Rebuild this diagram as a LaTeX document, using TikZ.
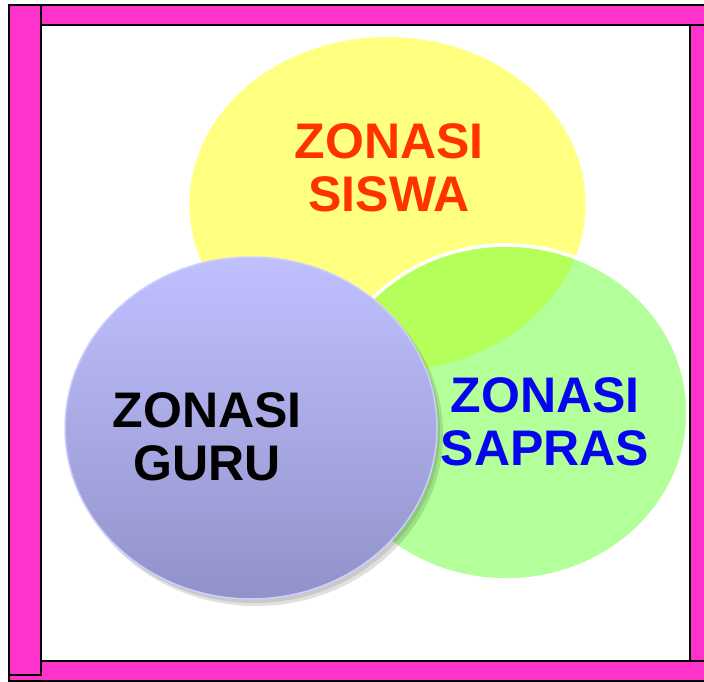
\documentclass[tikz,border=0pt]{standalone}
\usepackage{fontspec}
\setmainfont{Liberation Sans}
\definecolor{framepink}{RGB}{255,51,204}
\definecolor{siswafill}{RGB}{255,255,128}
\definecolor{saprasfill}{RGB}{179,255,153}
\definecolor{overlapfill}{RGB}{181,255,90}
\definecolor{gurutop}{RGB}{192,192,255}
\definecolor{gurubottom}{RGB}{146,146,202}
\definecolor{guruedge}{RGB}{206,206,255}
\definecolor{siswatext}{RGB}{255,51,0}
\definecolor{saprastext}{RGB}{5,5,240}
\tikzset{
  bar/.style={fill=framepink, draw=black, line width=1.5pt},
  zona/.style={font=\fontsize{50}{53}\selectfont\bfseries, align=center, inner sep=0pt},
}
\begin{document}
\begin{tikzpicture}[x=1pt, y=-1pt]
    \useasboundingbox (0,0) rectangle (704,682);
    \coordinate (siswaC) at (387.5,204);
    \coordinate (saprasC) at (506,412.5);
    \coordinate (guruC) at (251,428);
    % yellow and green circles
    \fill[siswafill] (siswaC) ellipse [x radius=198, y radius=167];
    \fill[saprasfill] (saprasC) ellipse [x radius=182, y radius=167.5];
    \begin{scope}
        \clip (siswaC) ellipse [x radius=198, y radius=167];
        \fill[overlapfill] (saprasC) ellipse [x radius=182, y radius=167.5];
    \end{scope}
    \draw[white, line width=3.5pt] (saprasC) ellipse [x radius=182, y radius=167.5];
    % blue circle with shadow
    \fill[black, opacity=0.12] ([shift={(5,6)}]guruC) ellipse [x radius=187, y radius=172];
    \fill[black, opacity=0.10] ([shift={(3,4)}]guruC) ellipse [x radius=186, y radius=171];
    \shade[top color=gurutop, bottom color=gurubottom, draw=guruedge, line width=1.5pt]
        (guruC) ellipse [x radius=186, y radius=171];
    % labels
    \node[zona, text=siswatext] (siswa) at (389,167.5) {ZONASI\\SISWA};
    \node[zona, text=saprastext] (sapras) at (545,421.5) {ZONASI\\SAPRAS};
    \node[zona, text=black] (guru) at (207,437) {ZONASI\\GURU};
    % frame
    \draw[bar] (9,661) rectangle (707,681);
    \draw[bar] (690,25) rectangle (707,661);
    \draw[bar] (41,5) rectangle (707,25);
    \draw[bar] (9,5) rectangle (41,675);
\end{tikzpicture}
\end{document}
